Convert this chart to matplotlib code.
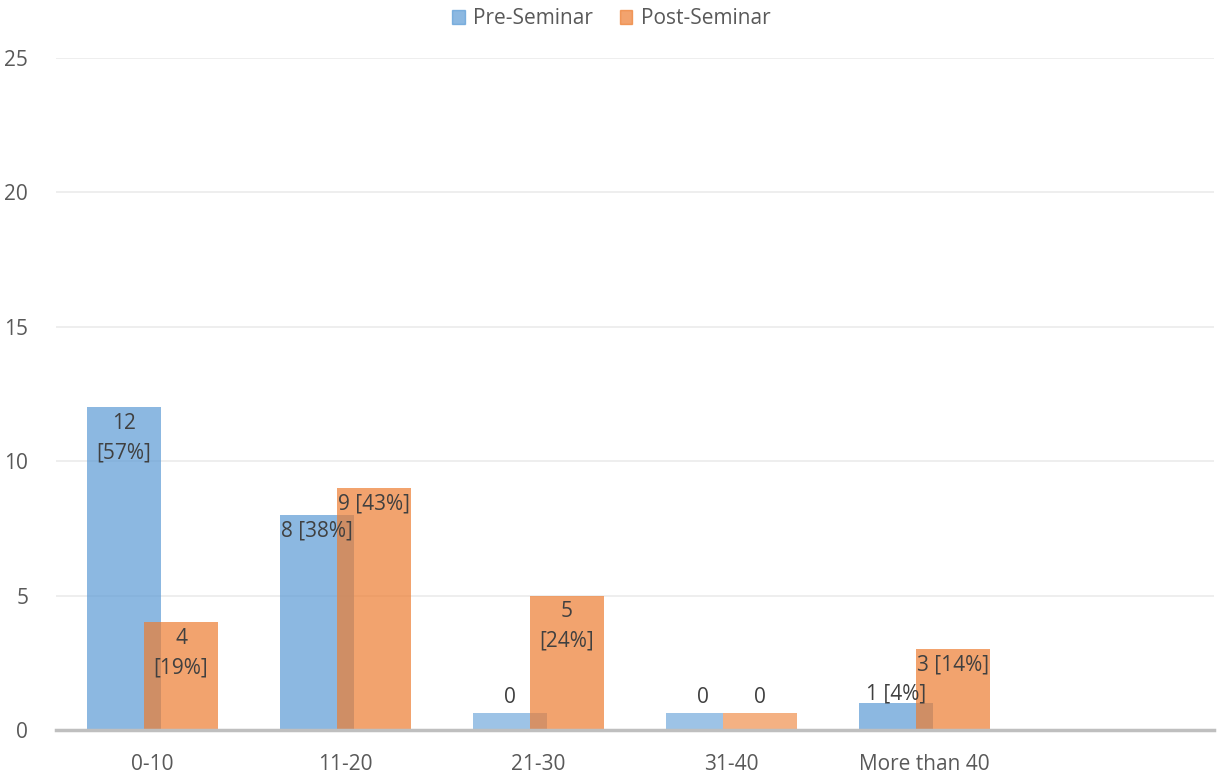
import matplotlib
matplotlib.use("Agg")
import matplotlib.pyplot as plt
import numpy as np
from matplotlib.patches import Patch

plt.rcParams['font.family'] = ['Open Sans', 'DejaVu Sans']

categories = ['0-10', '11-20', '21-30', '31-40', 'More than 40', '']
pre = [12, 8, 0, 0, 1]
post = [4, 9, 5, 0, 3]
pre_pct = ['57%', '38%', '', '', '4%']
post_pct = ['19%', '43%', '24%', '', '14%']
# labels that Excel wrapped onto two lines
pre_wrap = [True, False, False, False, False]
post_wrap = [True, False, True, False, False]

blue = '#5B9BD5'
orange = '#ED7D31'
stub_blue = '#9DC3E6'
stub_orange = '#F4B183'
txt = '#404040'
STUB = 0.63  # zero values are shown as a thin stub
FS = 15

fig = plt.figure(figsize=(12.25, 7.81), dpi=100)
ax = fig.add_axes([0.0457, 0.0653, 0.9453, 0.8604])

x = np.arange(len(pre))
off = 0.148
w = 0.383


def draw(xs, vals, pcts, wraps, col, stubcol, z):
    for xi, v, p, wr in zip(xs, vals, pcts, wraps):
        if v == 0:
            ax.bar(xi, STUB, w, color=stubcol, zorder=z)
            ax.annotate('0', (xi, STUB), xytext=(0, 4), textcoords='offset points',
                        ha='center', va='bottom', fontsize=FS, color=txt, zorder=10)
            continue
        ax.bar(xi, v, w, color=col, alpha=0.7, zorder=z, linewidth=0)
        sep = '\n' if wr else ' '
        label = f'{v}{sep}[{p}]'
        if v >= 2:
            ax.annotate(label, (xi, v), xytext=(0, -4), textcoords='offset points',
                        ha='center', va='top', fontsize=FS, color=txt, zorder=10,
                        linespacing=1.55)
        else:
            ax.annotate(label, (xi, v), xytext=(0, -1), textcoords='offset points',
                        ha='center', va='bottom', fontsize=FS, color=txt, zorder=10)


draw(x - off, pre, pre_pct, pre_wrap, blue, stub_blue, 2)
draw(x + off, post, post_pct, post_wrap, orange, stub_orange, 3)

ax.set_xlim(-0.5, len(categories) - 0.5)
ax.set_ylim(0, 25)
ax.set_yticks([0, 5, 10, 15, 20, 25])
ax.set_xticks(np.arange(len(categories)))
ax.set_xticklabels(categories)
ax.tick_params(axis='both', length=0, labelsize=FS, colors='#595959')
ax.tick_params(axis='x', pad=17)
ax.tick_params(axis='y', pad=20)
ax.grid(axis='y', color='#EDEDED', linewidth=1.3, zorder=0)
ax.set_axisbelow(True)
for s in ['left', 'right', 'top']:
    ax.spines[s].set_visible(False)
ax.spines['bottom'].set_color('#BFBFBF')
ax.spines['bottom'].set_linewidth(2.5)
ax.spines['bottom'].set_zorder(5)

handles = [Patch(color=blue, alpha=0.7), Patch(color=orange, alpha=0.7)]
fig.legend(handles, ['Pre-Seminar', 'Post-Seminar'], loc='center', bbox_to_anchor=(0.499, 0.976),
           ncol=2, frameon=False, fontsize=FS, handlelength=0.6, handleheight=0.6,
           handletextpad=0.4, columnspacing=1.3, labelcolor='#595959')

fig.savefig('out.png', dpi=100)
